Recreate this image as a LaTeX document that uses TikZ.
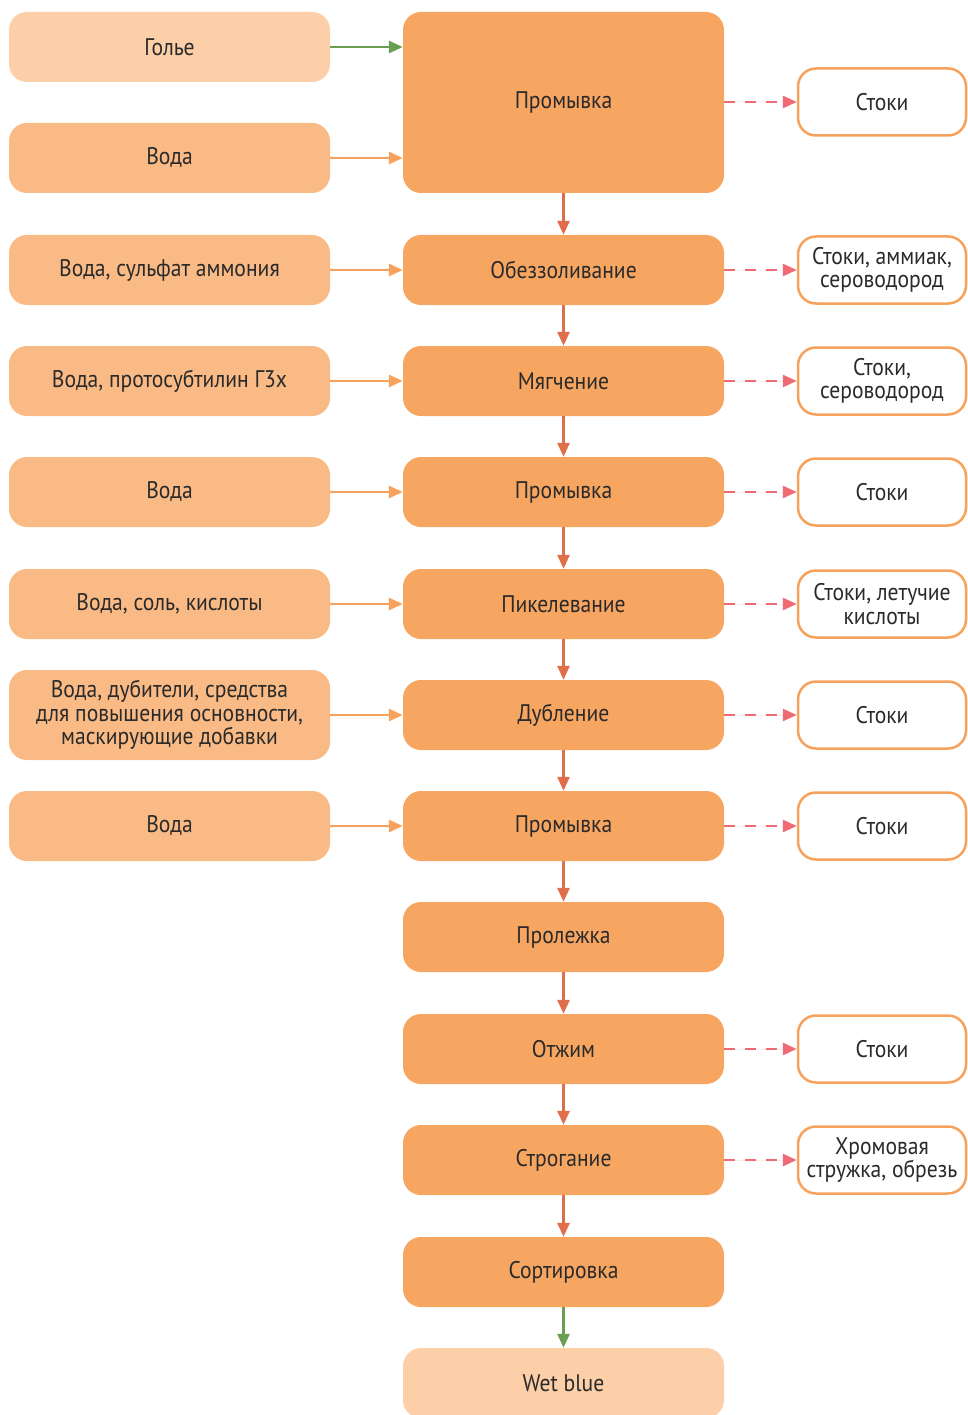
\documentclass[tikz,border=0pt]{standalone}
\usepackage{fontspec}
\setmainfont[FakeStretch=0.9]{PT Sans}
\usetikzlibrary{arrows.meta}
\definecolor{stepfill}{HTML}{F7A662}
\definecolor{inputfill}{HTML}{F9BA85}
\definecolor{endfill}{HTML}{FDCFA8}
\definecolor{flowred}{HTML}{E06E4A}
\definecolor{feedline}{HTML}{F7A25C}
\definecolor{wasteline}{HTML}{EF6A72}
\definecolor{greenline}{HTML}{6A9E52}
\definecolor{txt}{HTML}{2A2A2A}
\tikzset{
  box/.style={rounded corners=18pt, minimum width=321pt, minimum height=70pt,
    inner sep=0pt, align=center, text=txt, font=\fontsize{24}{23.5}\selectfont},
  stepbox/.style={box, fill=stepfill},
  inbox/.style={box, fill=inputfill},
  endbox/.style={box, fill=endfill},
  outbox/.style={box, minimum width=168pt, minimum height=67pt, fill=white,
    draw=feedline, line width=2.5pt},
  tip/.style={-{Triangle[length=14pt,width=12pt]}},
  flow/.style={tip, draw=flowred, fill=flowred, line width=2.8pt},
  feed/.style={tip, draw=feedline, fill=feedline, line width=2.8pt},
  green/.style={tip, draw=greenline, fill=greenline, line width=2.8pt},
  waste/.style={tip, draw=wasteline, fill=wasteline, line width=2.8pt,
    dash pattern=on 11pt off 10pt},
}
\begin{document}
\begin{tikzpicture}[x=1pt,y=-1pt]
\useasboundingbox (0,0) rectangle (967,1415);

% process steps (middle column)
\node[stepbox, minimum height=181pt] (s0) at (563.5,102.5) {Промывка};
\node[stepbox] (s1) at (563.5,270) {Обеззоливание};
\node[stepbox] (s2) at (563.5,381) {Мягчение};
\node[stepbox] (s3) at (563.5,492) {Промывка};
\node[stepbox] (s4) at (563.5,604) {Пикелевание};
\node[stepbox] (s5) at (563.5,715) {Дубление};
\node[stepbox] (s6) at (563.5,826) {Промывка};
\node[stepbox] (s7) at (563.5,937) {Пролежка};
\node[stepbox] (s8) at (563.5,1049) {Отжим};
\node[stepbox] (s9) at (563.5,1160) {Строгание};
\node[stepbox] (s10) at (563.5,1272) {Сортировка};
\node[endbox] (out) at (563.5,1383) {Wet blue};

% inputs (left column)
\node[endbox] (i0) at (169.5,47) {Голье};
\node[inbox] (i1) at (169.5,158) {Вода};
\node[inbox] (i2) at (169.5,270) {Вода, сульфат аммония};
\node[inbox] (i3) at (169.5,381) {Вода, протосубтилин Г3х};
\node[inbox] (i4) at (169.5,492) {Вода};
\node[inbox] (i5) at (169.5,604) {Вода, соль, кислоты};
\node[inbox, minimum height=90pt] (i6) at (169.5,715) {Вода, дубители, средства\\для повышения основности,\\маскирующие добавки};
\node[inbox] (i7) at (169.5,826) {Вода};

% outputs (right column)
\node[outbox] (o0) at (882,102) {Стоки};
\node[outbox] (o1) at (882,270) {Стоки, аммиак,\\сероводород};
\node[outbox] (o2) at (882,381) {Стоки,\\сероводород};
\node[outbox] (o3) at (882,492) {Стоки};
\node[outbox] (o4) at (882,604) {Стоки, летучие\\кислоты};
\node[outbox] (o5) at (882,715) {Стоки};
\node[outbox] (o6) at (882,826) {Стоки};
\node[outbox] (o8) at (882,1049) {Стоки};
\node[outbox] (o9) at (882,1160) {Хромовая\\стружка, обрезь};

% main flow
\foreach \a/\b in {s0/s1,s1/s2,s2/s3,s3/s4,s4/s5,s5/s6,s6/s7,s7/s8,s8/s9,s9/s10}
  \draw[flow] (\a.south) -- (\b.north);
\draw[green] (s10.south) -- (out.north);

% feeds
\draw[green] (i0.east) -- (i0.east -| s0.west);
\draw[feed] (i1.east) -- (i1.east -| s0.west);
\foreach \a/\b in {i2/s1,i3/s2,i4/s3,i5/s4,i6/s5,i7/s6}
  \draw[feed] (\a.east) -- (\b.west);

% discharges
\draw[waste] (s0.east |- o0.west) -- (o0.west);
\foreach \a/\b in {s1/o1,s2/o2,s3/o3,s4/o4,s5/o5,s6/o6,s8/o8,s9/o9}
  \draw[waste] (\a.east) -- (\b.west);
\end{tikzpicture}
\end{document}
